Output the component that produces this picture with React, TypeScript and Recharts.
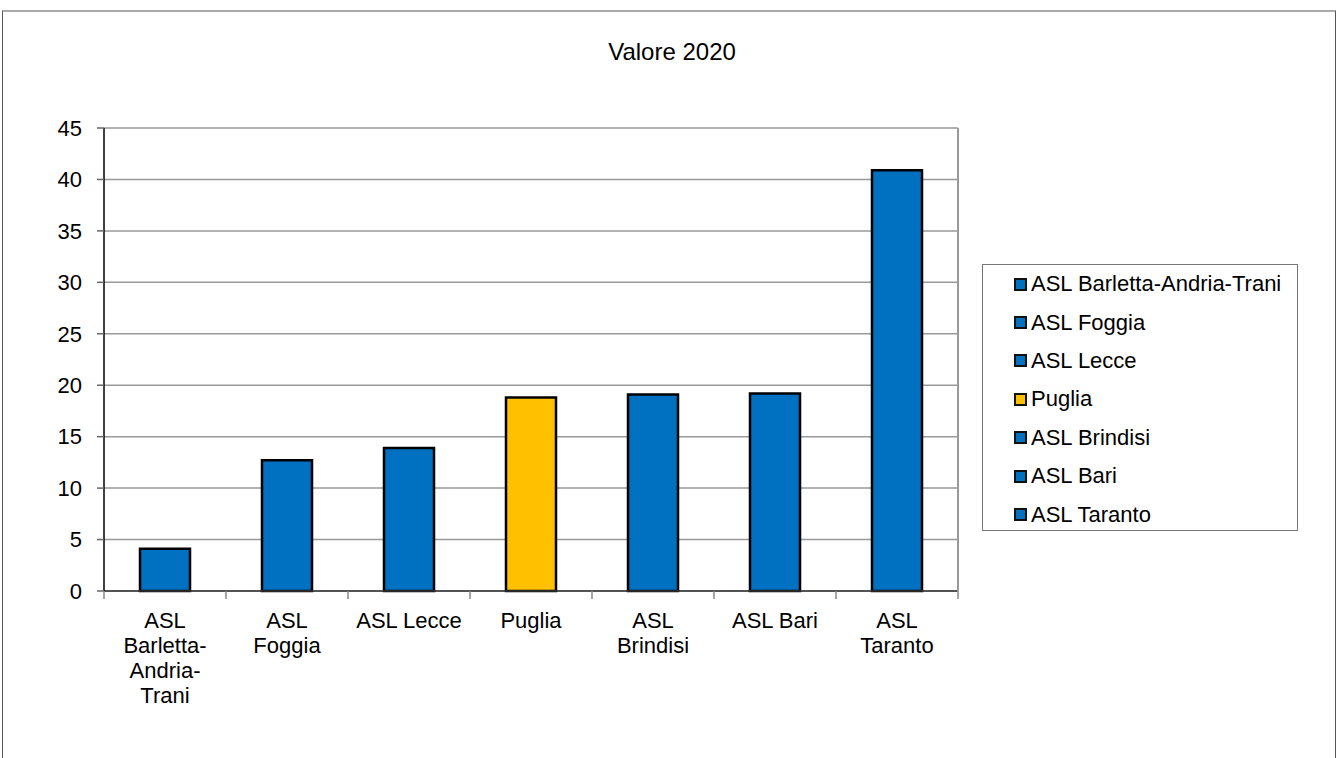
import React from 'react';
import { BarChart, Bar, XAxis, YAxis, CartesianGrid, Cell } from 'recharts';

const categories = [
  'ASL Barletta-Andria-Trani',
  'ASL Foggia',
  'ASL Lecce',
  'Puglia',
  'ASL Brindisi',
  'ASL Bari',
  'ASL Taranto',
];
const values = [4.1, 12.7, 13.9, 18.8, 19.1, 19.2, 40.9];
const tickLines = [
  ['ASL', 'Barletta-', 'Andria-', 'Trani'],
  ['ASL', 'Foggia'],
  ['ASL Lecce'],
  ['Puglia'],
  ['ASL', 'Brindisi'],
  ['ASL Bari'],
  ['ASL', 'Taranto'],
];
const yTicks = [0, 5, 10, 15, 20, 25, 30, 35, 40, 45];
const BLUE = '#0070C0';
const GOLD = '#FFC000';
const colors = categories.map((c) => (c === 'Puglia' ? GOLD : BLUE));

const data = categories.map((name, i) => ({ name, value: values[i] }));

const FONT = '"Liberation Sans", Arial, sans-serif';
const W = 1342;
const H = 758;
const margin = { top: 128, right: 383, bottom: 107, left: 54 };
const yAxisWidth = 50;
const rightAxisWidth = 1;
const bandWidth = (W - margin.left - margin.right - yAxisWidth - rightAxisWidth) / categories.length;

const CategoryTick = (props: any) => {
  const { x, y, index } = props;
  const lines = tickLines[index] || [];
  const last = index === categories.length - 1;
  return (
    <g>
      <line x1={x - bandWidth / 2} x2={x - bandWidth / 2} y1={y - 8} y2={y} stroke="#888" strokeWidth={1.5} />
      {last && (
        <line x1={x + bandWidth / 2} x2={x + bandWidth / 2} y1={y - 8} y2={y} stroke="#888" strokeWidth={1.5} />
      )}
      <text x={x} y={y} textAnchor="middle" fontSize={22} fontFamily={FONT} fill="#000">
        {lines.map((l, i) => (
          <tspan key={i} x={x} dy={i === 0 ? 29 : 25}>
            {l}
          </tspan>
        ))}
      </text>
    </g>
  );
};

export default function App() {
  return (
    <div style={{ position: 'absolute', left: 0, top: 0, width: W, height: H, background: '#fff', overflow: 'hidden' }}>
      <div
        style={{
          position: 'absolute',
          left: 2,
          top: 10,
          width: 1332,
          height: 800,
          borderLeft: '1px solid #555',
          borderRight: '1px solid #555',
          borderTop: '2px solid #aaa',
        }}
      />
      <div
        style={{
          position: 'absolute',
          left: 2,
          top: 38,
          width: 1340,
          textAlign: 'center',
          fontFamily: FONT,
          fontSize: 24,
          lineHeight: '28px',
        }}
      >
        Valore 2020
      </div>
      <div style={{ position: 'absolute', left: 0, top: 0 }}>
        <BarChart width={W} height={H} data={data} margin={margin}>
          <CartesianGrid vertical={false} stroke="#999" strokeWidth={1.5} />
          <XAxis
            dataKey="name"
            height={60}
            tickLine={false}
            axisLine={{ stroke: '#333', strokeWidth: 1.5 }}
            tick={<CategoryTick />}
            interval={0}
          />
          <YAxis
            width={yAxisWidth}
            domain={[0, 45]}
            ticks={yTicks}
            interval={0}
            tickSize={7}
            tickMargin={15}
            axisLine={{ stroke: '#000', strokeWidth: 1.5 }}
            tickLine={{ stroke: '#666', strokeWidth: 1.5 }}
            tick={{ fontSize: 22, fontFamily: FONT, fill: '#000' }}
          />
          <YAxis
            yAxisId="right"
            orientation="right"
            width={rightAxisWidth}
            domain={[0, 45]}
            ticks={yTicks}
            tick={false}
            tickLine={false}
            axisLine={{ stroke: '#999', strokeWidth: 2 }}
          />
          <Bar dataKey="value" barSize={50} stroke="#000" strokeWidth={2.5} isAnimationActive={false}>
            {data.map((d, i) => (
              <Cell key={d.name} fill={colors[i]} />
            ))}
          </Bar>
        </BarChart>
      </div>
      <div
        style={{
          position: 'absolute',
          left: 982,
          top: 264,
          width: 316,
          height: 267,
          border: '1px solid #777',
          boxSizing: 'border-box',
        }}
      >
        {categories.map((c, i) => (
          <div
            key={c}
            style={{
              display: 'flex',
              alignItems: 'center',
              height: 38.4,
              paddingLeft: 31,
              fontFamily: FONT,
              fontSize: 22,
              color: '#000',
            }}
          >
            <span
              style={{
                display: 'inline-block',
                width: 9,
                height: 9,
                border: '2px solid #111',
                background: colors[i],
                marginRight: 4,
              }}
            />
            <span>{c}</span>
          </div>
        ))}
      </div>
    </div>
  );
}
